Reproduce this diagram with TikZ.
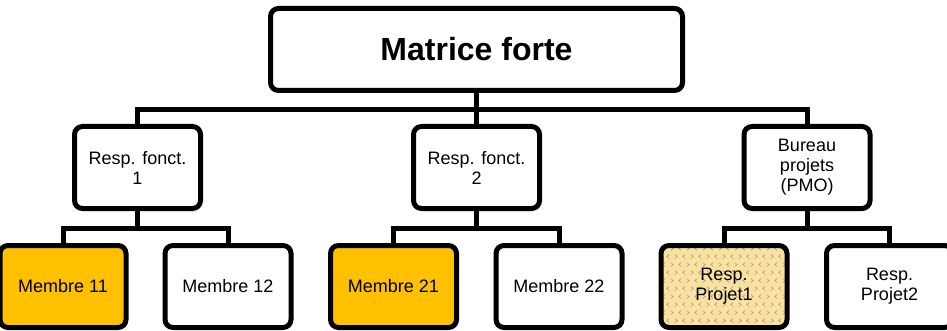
\documentclass[tikz,border=0pt]{standalone}
\usepackage{fontspec}
\setmainfont{Liberation Sans}
\definecolor{memberfill}{HTML}{FFC000}
\definecolor{pmofill}{HTML}{FBE29C}
\definecolor{divotgray}{HTML}{A8A8A8}
\begin{document}
\begin{tikzpicture}[x=1pt,y=-1pt,
  box/.style={draw=black, line width=5pt, rounded corners=8pt, fill=white,
    minimum width=126pt, minimum height=82pt, inner sep=0pt, align=center,
    font=\fontsize{18}{20}\selectfont},
  link/.style={draw=black, line width=5pt},
  divot/.style={draw=divotgray, line width=0.8pt, sharp corners},
  divotfill/.style={fill=pmofill, path picture={
    \foreach \r in {0,...,11}{
      \foreach \c in {0,...,16}{
        \pgfmathsetmacro\px{3+8*\c+mod(\r,2)*4}
        \pgfmathsetmacro\py{3+8*\r}
        \pgfmathtruncatemacro\k{mod(\c,2)}
        \ifnum\k=0
          \draw[divot] ([xshift=\px pt+1.2pt, yshift=-\py pt+2pt]path picture bounding box.north west)
            -- ++(-2.4pt,-2pt) -- ++(2.4pt,-2pt);
        \else
          \draw[divot] ([xshift=\px pt-1.2pt, yshift=-\py pt+2pt]path picture bounding box.north west)
            -- ++(2.4pt,-2pt) -- ++(-2.4pt,-2pt);
        \fi
      }}
  }}]
\useasboundingbox (0,0) rectangle (947,331);
\clip (0,0) rectangle (947,331);

% top of the hierarchy
\node[box, minimum width=412pt, font=\bfseries\fontsize{32}{36}\selectfont] (top) at (476.5,49.5) {Matrice forte};

% second level
\node[box] (rf1) at (137.5,167.5) {Resp. fonct.\\1};
\node[box] (rf2) at (476.5,167.5) {Resp. fonct.\\2};
\node[box] (pmo) at (807,167.5) {Bureau\\projets\\(PMO)};

% third level
\node[box, fill=memberfill] (m11) at (63,286.5) {Membre 11};
\node[box] (m12) at (228,286.5) {Membre 12};
\node[box, fill=memberfill] (m21) at (393.5,286.5) {Membre 21};
\node[box] (m22) at (559,286.5) {Membre 22};
\node[box, divotfill] (rp1) at (724,286.5) {Resp.\\Projet1};
\node[box] (rp2) at (889.5,286.5) {Resp.\\Projet2};

% bus lines
\coordinate (bus) at (476.5,110);
\coordinate (b1) at (137.5,228);
\coordinate (b2) at (476.5,228);
\coordinate (b3) at (807,228);

\draw[link] (rf1.north) |- (bus) -| (pmo.north);
\draw[link] (top.south) -- (rf2.north);

\draw[link] (m11.north) |- (b1) -| (m12.north);
\draw[link] (rf1.south) -- (b1);
\draw[link] (m21.north) |- (b2) -| (m22.north);
\draw[link] (rf2.south) -- (b2);
\draw[link] (rp1.north) |- (b3) -| (rp2.north);
\draw[link] (pmo.south) -- (b3);
\end{tikzpicture}
\end{document}
